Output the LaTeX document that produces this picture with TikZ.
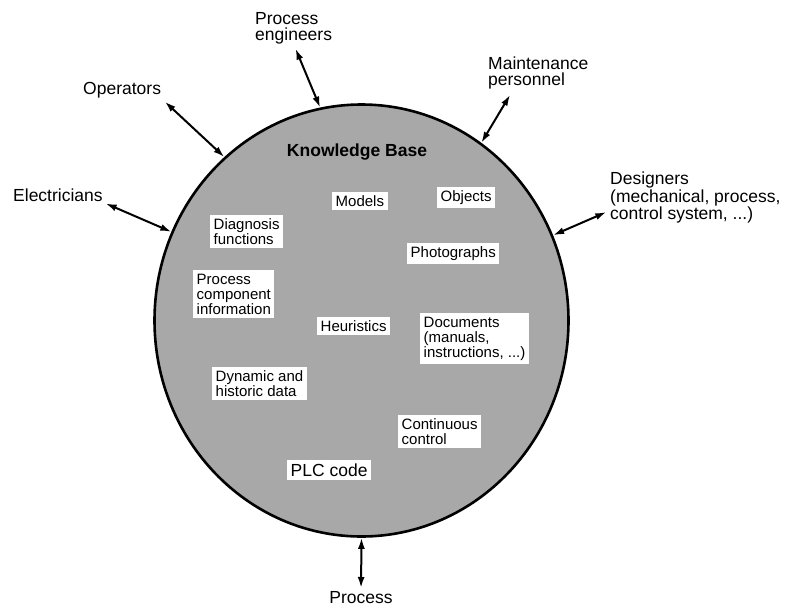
\documentclass[tikz,border=0pt]{standalone}
\usepackage{fontspec}
\setmainfont{Liberation Sans}
\usetikzlibrary{arrows.meta,positioning,calc,shapes.geometric}

\begin{document}
\begin{tikzpicture}[
  x=1pt, y=-1pt,
  kbase/.style={ellipse, draw, line width=2.6pt, fill=black!34, minimum width=414pt, minimum height=432pt, inner sep=0pt},
  item/.style={rectangle, fill=white, inner sep=3.5pt, align=left, anchor=north west, font=\fontsize{15}{15}\selectfont},
  party/.style={inner sep=0pt, align=left, anchor=north west, font=\fontsize{17.5}{16}\selectfont},
  link/.style={{Latex[length=11pt,width=7pt]}-{Latex[length=11pt,width=7pt]}, line width=2pt}
]
  \useasboundingbox (0,0) rectangle (787,608);
  \node[kbase] (kb) at (361.5,320.5) {};
  \node[font=\bfseries\fontsize{17.5}{16}\selectfont] (title) at (357,152) {Knowledge Base};

  % contents of the knowledge base
  \node[item] (models) at (332,192) {Models};
  \node[item] (objects) at (437,187) {Objects};
  \node[item] (diag) at (210,215) {Diagnosis\\functions};
  \node[item] (photos) at (407,243) {Photographs};
  \node[item] (pci) at (193,270) {Process\\component\\information};
  \node[item] (heur) at (317,317) {Heuristics};
  \node[item] (docs) at (420,313) {Documents\\(manuals,\\instructions, ...)};
  \node[item] (dyn) at (212,367) {Dynamic and\\historic data};
  \node[item] (cont) at (398,415) {Continuous\\control};
  \node[item, font=\fontsize{17.5}{16}\selectfont] (plc) at (287,460) {PLC code};

  % users around it
  \node[party] (proceng) at (255,12) {Process\\engineers};
  \node[party] (ops) at (83,82) {Operators};
  \node[party] (elec) at (13,189) {Electricians};
  \node[party] (maint) at (488,57) {Maintenance\\personnel};
  \node[party] (des) at (610,172) {Designers\\(mechanical, process,\\control system, ...)};
  \node[party, anchor=north] (proc) at (361,591) {Process};

  \draw[link, shorten <=5pt] (ops.south east) -- (kb.130);
  \draw[link, shorten <=5pt] (proceng.south) -- (kb.101);
  \draw[link, shorten <=6pt] ($(maint.south west)!0.25!(maint.south east)$) -- (kb.56);
  \draw[link, shorten <=4pt] ($(des.west)!0.5!(des.south west)$) -- (kb.24);
  \draw[link, shorten <=3pt] (elec.south east) -- (kb.155);
  \draw[link, shorten <=3pt] (proc.north) -- (kb.270);
\end{tikzpicture}
\end{document}
